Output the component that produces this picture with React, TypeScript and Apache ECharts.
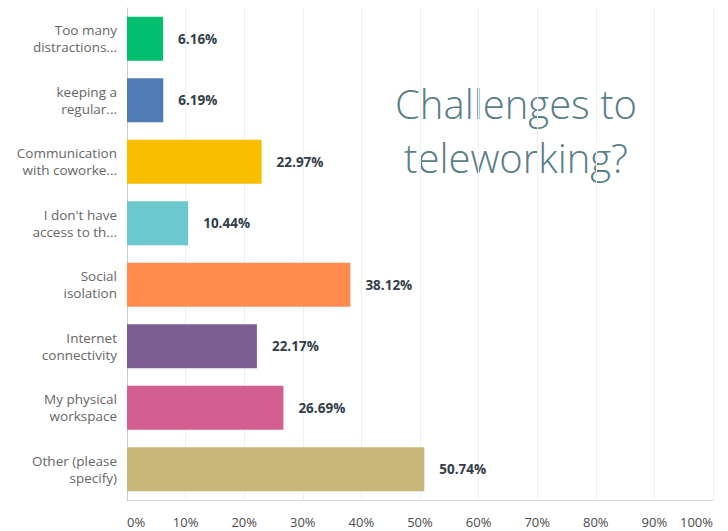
import React, { useEffect, useRef } from "react";
import * as echarts from "echarts";

const categories = [
  "Too many\ndistractions...",
  "keeping a\nregular...",
  "Communication\nwith coworke...",
  "I don't have\naccess to th...",
  "Social\nisolation",
  "Internet\nconnectivity",
  "My physical\nworkspace",
  "Other (please\nspecify)",
];
const values = [6.16, 6.19, 22.97, 10.44, 38.12, 22.17, 26.69, 50.74];
const colors = ["#00BF6F", "#507CB6", "#F9BE00", "#6BC8CD", "#FF8B4F", "#7D5E90", "#D25F90", "#C7B879"];
const titleLines = ["Challenges to", "teleworking?"];

export default function App() {
  const ref = useRef<HTMLDivElement>(null);
  useEffect(() => {
    if (!ref.current) return;
    const chart = echarts.init(ref.current, null, { renderer: "svg" });
    chart.setOption({
      animation: false,
      backgroundColor: "#ffffff",
      grid: { left: 127, right: 15, top: 8, bottom: 31, containLabel: false },
      xAxis: {
        type: "value",
        min: 0,
        max: 100,
        interval: 10,
        axisLine: { show: true, lineStyle: { color: "#d6d6d6" } },
        axisTick: { show: false },
        splitLine: { show: true, lineStyle: { color: "#eef0f0" } },
        axisLabel: {
          formatter: "{value}%",
          color: "#4a4a4a",
          fontSize: 13,
          fontFamily: "Open Sans",
          margin: 15,
          alignMinLabel: "left",
          alignMaxLabel: "right",
        },
      },
      yAxis: {
        type: "category",
        data: categories,
        inverse: true,
        axisLine: { show: true, lineStyle: { color: "#cccccc" } },
        axisTick: { show: false },
        axisLabel: {
          color: "#666666",
          fontSize: 13.5,
          fontFamily: "Open Sans",
          lineHeight: 17,
          margin: 10,
          align: "right",
        },
      },
      series: [
        {
          type: "bar",
          data: values.map((v, i) => ({ value: v, itemStyle: { color: colors[i] } })),
          barWidth: 44,
          label: {
            show: true,
            position: "right",
            distance: 15,
            formatter: (p: any) => p.value.toFixed(2) + "%",
            color: "#333e48",
            fontSize: 13.5,
            fontWeight: "bold",
            fontFamily: "Open Sans",
          },
        },
      ],
      graphic: titleLines.map((t, i) => ({
        type: "text",
        x: 516,
        y: 83 + i * 54,
        style: {
          text: t,
          fill: "#587e87",
          font: "300 40px 'Open Sans'",
          textAlign: "center",
          textVerticalAlign: "top",
        },
      })),
    });
    return () => chart.dispose();
  }, []);
  return <div ref={ref} style={{ position: "absolute", left: 0, top: 0, width: 728, height: 531 }} />;
}
